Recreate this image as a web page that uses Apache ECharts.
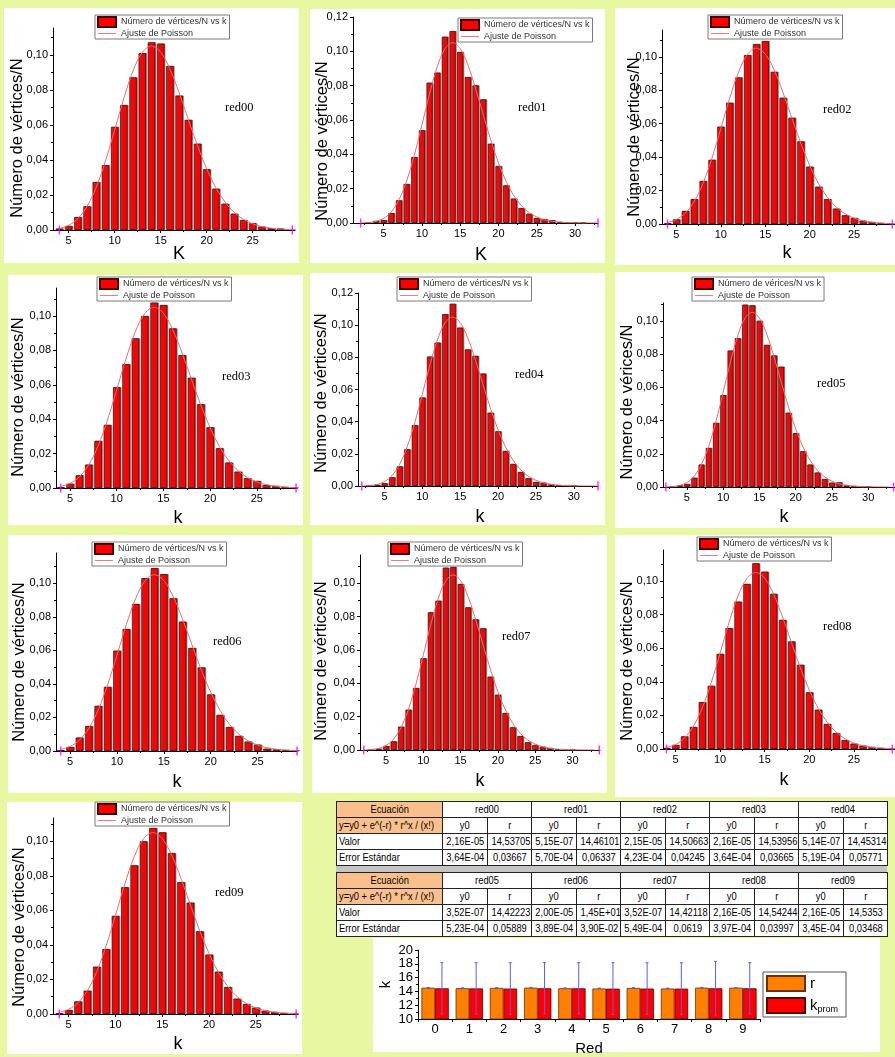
<!DOCTYPE html>
<html>
<head>
<meta charset="utf-8">
<title>Distribución de grados — red00 … red09</title>
<script src="https://cdn.jsdelivr.net/npm/echarts@6/dist/echarts.min.js"></script>
<style>
  html, body { margin: 0; padding: 0; background: #e8f8a2; }
  #chart { position: absolute; left: 0; top: 0; width: 895px; height: 1057px; }
  table.ajuste { position: absolute; border-collapse: collapse; table-layout: fixed; background: #fff;
    font-family: "Liberation Sans", Arial, sans-serif; font-size: 11px; color: #000; }
  table.ajuste td { border: 1px solid #222; padding: 0; height: 15px; line-height: 15px; text-align: center;
    white-space: nowrap; overflow: hidden; }
  table.ajuste td.eq { background: #f9c08e; }
  table.ajuste td.izq { text-align: left; padding-left: 2px; }
  table.ajuste span { display: inline-block; transform: scaleX(0.85); transform-origin: center; }
  table.ajuste td.izq span { transform-origin: left center; }
  #separador { position: absolute; background: #c4c4c4; }
</style>
</head>
<body>
<div id="chart"></div>
<div id="tablas"></div>
<script>
// ---------------------------------------------------------------
// Datos: fracción de vértices con grado k (Número de vértices/N)
// ---------------------------------------------------------------
const k = [3, 4, 5, 6, 7, 8, 9, 10, 11, 12, 13, 14, 15, 16, 17, 18, 19, 20, 21, 22, 23, 24, 25, 26, 27, 28, 29, 30, 31];

const red00 = [null, 0.0008, 0.0023, 0.0074, 0.0135, 0.0274, 0.0370, 0.0589, 0.0714, 0.0872, 0.1010, 0.1072, 0.1065, 0.0937, 0.0768, 0.0629, 0.0493, 0.0347, 0.0236, 0.0150, 0.0093, 0.0057, 0.0038, 0.0019, 0.0010, 0.0008, null, null, null];
const red01 = [0.0004, 0.0012, 0.0017, 0.0058, 0.0132, 0.0227, 0.0384, 0.0540, 0.0817, 0.0876, 0.1085, 0.1118, 0.0996, 0.0850, 0.0802, 0.0720, 0.0462, 0.0332, 0.0219, 0.0142, 0.0087, 0.0054, 0.0029, 0.0023, 0.0016, 0.0006, 0.0002, 0.0002, 0.0001];
const red02 = [null, 0.0004, 0.0028, 0.0078, 0.0149, 0.0257, 0.0384, 0.0582, 0.0725, 0.0876, 0.1010, 0.1076, 0.1094, 0.0910, 0.0755, 0.0635, 0.0494, 0.0343, 0.0223, 0.0149, 0.0092, 0.0052, 0.0036, 0.0020, 0.0012, 0.0006, 0.0003, null, null];
const red03 = [null, 0.0004, 0.0025, 0.0074, 0.0136, 0.0274, 0.0367, 0.0586, 0.0720, 0.0870, 0.1000, 0.1078, 0.1064, 0.0928, 0.0773, 0.0641, 0.0487, 0.0353, 0.0231, 0.0148, 0.0095, 0.0056, 0.0041, 0.0017, 0.0012, 0.0006, 0.0002, null, null];
const red04 = [0.0002, 0.0008, 0.0017, 0.0054, 0.0122, 0.0228, 0.0378, 0.0550, 0.0805, 0.0892, 0.1068, 0.1133, 0.0985, 0.0849, 0.0809, 0.0699, 0.0456, 0.0340, 0.0218, 0.0137, 0.0087, 0.0048, 0.0025, 0.0021, 0.0010, 0.0004, 0.0002, 0.0001, null];
const red05 = [0.0004, 0.0010, 0.0018, 0.0056, 0.0135, 0.0235, 0.0386, 0.0553, 0.0821, 0.0895, 0.1097, 0.1093, 0.1000, 0.0855, 0.0791, 0.0724, 0.0447, 0.0324, 0.0215, 0.0135, 0.0087, 0.0048, 0.0026, 0.0028, 0.0010, 0.0006, 0.0002, 0.0002, null];
const red06 = [null, 0.0005, 0.0024, 0.0080, 0.0149, 0.0269, 0.0382, 0.0598, 0.0727, 0.0876, 0.1030, 0.1090, 0.1054, 0.0910, 0.0771, 0.0614, 0.0498, 0.0337, 0.0215, 0.0143, 0.0090, 0.0056, 0.0038, 0.0014, 0.0010, 0.0006, 0.0003, null, null];
const red07 = [0.0002, 0.0008, 0.0024, 0.0052, 0.0140, 0.0242, 0.0372, 0.0550, 0.0826, 0.0896, 0.1094, 0.1098, 0.0996, 0.0856, 0.0784, 0.0730, 0.0440, 0.0332, 0.0222, 0.0136, 0.0084, 0.0046, 0.0030, 0.0020, 0.0012, 0.0004, 0.0002, 0.0001, null];
const red08 = [null, 0.0006, 0.0024, 0.0075, 0.0131, 0.0279, 0.0376, 0.0566, 0.0719, 0.0877, 0.0982, 0.1105, 0.1055, 0.0923, 0.0768, 0.0640, 0.0501, 0.0337, 0.0234, 0.0149, 0.0095, 0.0053, 0.0032, 0.0020, 0.0012, 0.0006, 0.0003, null, null];
const red09 = [null, 0.0004, 0.0023, 0.0073, 0.0135, 0.0274, 0.0376, 0.0568, 0.0734, 0.0861, 0.1000, 0.1077, 0.1052, 0.0932, 0.0763, 0.0645, 0.0479, 0.0344, 0.0245, 0.0156, 0.0089, 0.0058, 0.0037, 0.0019, 0.0012, 0.0006, 0.0003, null, null];

// Curva del ajuste de Poisson (r ≈ 14,5), igual en las diez redes a esta escala
const kAjuste = [2, 3, 4, 5, 6, 7, 8, 9, 10, 11, 12, 13, 14, 15, 16, 17, 18, 19, 20, 21, 22, 23, 24, 25, 26, 27, 28, 29, 30, 31, 32, 33];
const ajustePoisson = [0.00005, 0.00026, 0.00093, 0.00269, 0.00651, 0.01349, 0.02444, 0.03938, 0.05710, 0.07527, 0.09095, 0.10145, 0.10507, 0.10157, 0.09205, 0.07851, 0.06325, 0.04827, 0.03499, 0.02416, 0.01593, 0.01004, 0.00607, 0.00352, 0.00196, 0.00105, 0.00055, 0.00027, 0.00013, 0.00006, 0.00003, 0.00001];

// Marcas de eje (principales y secundarias)
const ticksK25 = [5, 10, 15, 20, 25];
const ticksK30 = [5, 10, 15, 20, 25, 30];
const menoresK = [2.5, 7.5, 12.5, 17.5, 22.5, 27.5, 32.5];
const ticksY10 = [0, 0.02, 0.04, 0.06, 0.08, 0.10];
const ticksY12 = [0, 0.02, 0.04, 0.06, 0.08, 0.10, 0.12];
const menoresY = [0.01, 0.03, 0.05, 0.07, 0.09, 0.11];

// Parámetros del ajuste y = y0 + e^(-r) * r^x / (x!)
const redes = ['red00', 'red01', 'red02', 'red03', 'red04', 'red05', 'red06', 'red07', 'red08', 'red09'];
const y0Valor = ['2,16E-05', '5,15E-07', '2,15E-05', '2,16E-05', '5,14E-07', '3,52E-07', '2,00E-05', '3,52E-07', '2,16E-05', '2,16E-05'];
const rValor = ['14,53705', '14,46101', '14,50663', '14,53956', '14,45314', '14,42223', '1,45E+01', '14,42118', '14,54244', '14,5353'];
const y0Error = ['3,64E-04', '5,70E-04', '4,23E-04', '3,64E-04', '5,19E-04', '5,23E-04', '3,89E-04', '5,49E-04', '3,97E-04', '3,45E-04'];
const rError = ['0,03667', '0,06337', '0,04245', '0,03665', '0,05771', '0,05889', '3,90E-02', '0,0619', '0,03997', '0,03468'];

// Grado medio de cada red y su desviación típica
const redIndice = ['0', '1', '2', '3', '4', '5', '6', '7', '8', '9'];
const kProm = [14.45, 14.43, 14.41, 14.45, 14.45, 14.40, 14.41, 14.40, 14.45, 14.45];
const kDesv = [3.72, 3.72, 3.74, 3.72, 3.72, 3.75, 3.74, 3.75, 3.90, 3.72];

// ---------------------------------------------------------------
// Disposición de los paneles (px)
// ---------------------------------------------------------------
const leyendaBarras = 'Número de vértices/N vs k';
const tituloY = 'Número de vértices/N';
const paneles = [
  { datos: red00, nombre: 'red00', grid: [53, 28, 242, 202], x: [3.3, 29.6], ymax: 0.1154, tk: ticksK25, ty: ticksY10, eje: 'K',
    leyenda: [95, 15], rotulo: [225, 108], tY: [17, 138], tX: [179, 254], marcas: [4, 29.3] },
  { datos: red01, nombre: 'red01', grid: [353, 17, 245, 206], x: [1.0, 33.0], ymax: 0.12, tk: ticksK30, ty: ticksY12, eje: 'K',
    leyenda: [458, 18], rotulo: [518, 108], tY: [322, 141], tX: [481, 255], marcas: [2, 33] },
  { datos: red02, nombre: 'red02', grid: [662, 30, 253, 194], x: [3.38, 29.6], ymax: 0.116, tk: ticksK25, ty: ticksY10, eje: 'k',
    leyenda: [708, 15], rotulo: [823, 110], tY: [634, 137], tX: [787, 253], marcas: [4, 29.3] },
  { datos: red03, nombre: 'red03', grid: [56, 288, 241, 200], x: [3.5, 29.3], ymax: 0.1163, tk: ticksK25, ty: ticksY10, eje: 'k',
    leyenda: [97, 277], rotulo: [222, 377], tY: [18, 397], tX: [178, 518], marcas: [4, 29.2] },
  { datos: red04, nombre: 'red04', grid: [358, 293, 240, 193], x: [1.5, 33.2], ymax: 0.12, tk: ticksK30, ty: ticksY12, eje: 'k',
    leyenda: [397, 277], rotulo: [515, 375], tY: [321, 393], tX: [480, 517], marcas: [2, 33.2] },
  { datos: red05, nombre: 'red05', grid: [663, 303, 234, 184], x: [1.7, 33.7], ymax: 0.1107, tk: ticksK30, ty: ticksY10, eje: 'k',
    leyenda: [692, 277], rotulo: [817, 384], tY: [627, 402], tX: [784, 517], marcas: [2.1, 33.5],
    serieNombre: 'Número de vérices/N vs k', titulo: 'Número de vérices/N' },
  { datos: red06, nombre: 'red06', grid: [56, 553, 241, 198], x: [3.5, 29.2], ymax: 0.118, tk: ticksK25, ty: ticksY10, eje: 'k',
    leyenda: [92, 542], rotulo: [213, 642], tY: [19, 662], tX: [177, 782], marcas: [4, 29.2] },
  { datos: red07, nombre: 'red07', grid: [360, 555, 240, 195], x: [1.5, 33.7], ymax: 0.117, tk: ticksK30, ty: ticksY10, eje: 'k',
    leyenda: [388, 542], rotulo: [502, 637], tY: [321, 661], tX: [480, 781], marcas: [2, 33.6] },
  { datos: red08, nombre: 'red08', grid: [663, 550, 247, 199], x: [3.6, 29.6], ymax: 0.1184, tk: ticksK25, ty: ticksY10, eje: 'k',
    leyenda: [697, 537], rotulo: [823, 627], tY: [627, 661], tX: [784, 780], marcas: [4, 29.3] },
  { datos: red09, nombre: 'red09', grid: [53, 818, 245, 196], x: [3.33, 29.5], ymax: 0.1135, tk: ticksK25, ty: ticksY10, eje: 'k',
    leyenda: [95, 802], rotulo: [215, 893], tY: [19, 927], tX: [178, 1044], marcas: [4, 29.3] }
];

// Fondos blancos de cada panel [x, y, ancho, alto]
const fondos = [
  [4, 8, 295, 255], [310, 9, 295, 254], [615, 8, 280, 257],
  [8, 275, 295, 250], [310, 273, 295, 252], [615, 272, 280, 256],
  [8, 535, 295, 258], [312, 535, 295, 258], [615, 535, 280, 262],
  [7, 802, 295, 252], [373, 938, 507, 114]
];

const sans = '"Liberation Sans", Arial, sans-serif';
const serif = '"Liberation Serif", "Times New Roman", serif';
const conComa = (v, d) => v.toFixed(d).replace('.', ',');
const aNumero = s => parseFloat(s.replace(',', '.'));
const colorAjuste = '#f06a6a';
const iconoLinea = 'path://M0,0H20V1H0Z';

const option = {
  backgroundColor: '#e8f8a2',
  animation: false,
  grid: [], xAxis: [], yAxis: [], series: [], legend: [], graphic: []
};

fondos.forEach(f => option.graphic.push({
  type: 'rect', z: -10, shape: { x: f[0], y: f[1], width: f[2], height: f[3] },
  style: { fill: '#ffffff' }, silent: true
}));

paneles.forEach((p, i) => {
  const nombreSerie = p.serieNombre || leyendaBarras;
  option.grid.push({ left: p.grid[0], top: p.grid[1], width: p.grid[2], height: p.grid[3] });
  option.xAxis.push({
    type: 'value', gridIndex: i, min: p.x[0], max: p.x[1],
    axisLine: { onZero: false, lineStyle: { color: '#000', width: 1 } },
    axisTick: { customValues: p.tk, length: 3, lineStyle: { color: '#000' } },
    axisLabel: { customValues: p.tk, fontSize: 11, color: '#000', margin: 5, fontFamily: sans },
    splitLine: { show: false }
  });
  option.yAxis.push({
    type: 'value', gridIndex: i, min: 0, max: p.ymax,
    axisLine: { show: true, lineStyle: { color: '#000', width: 1 } },
    axisTick: { customValues: p.ty, length: 3, lineStyle: { color: '#000' } },
    axisLabel: { customValues: p.ty, fontSize: 11, color: '#000', margin: 5, fontFamily: sans,
      formatter: v => conComa(v, 2) },
    splitLine: { show: false }
  });
  // Histograma
  option.series.push({
    type: 'bar', name: nombreSerie, xAxisIndex: i, yAxisIndex: i, barWidth: '80%',
    data: k.map((kk, j) => [kk, p.datos[j]]).filter(d => d[1] !== null),
    itemStyle: { color: '#ff0000', borderColor: '#4a0000', borderWidth: 0.7,
      shadowColor: 'rgba(90,90,90,0.8)', shadowOffsetX: 1, shadowOffsetY: 0, shadowBlur: 0 },
    z: 2
  });
  // Ajuste de Poisson
  option.series.push({
    type: 'line', name: 'Ajuste de Poisson', xAxisIndex: i, yAxisIndex: i, smooth: 0.35,
    symbol: 'none', clip: true, color: colorAjuste,
    data: kAjuste.map((kk, j) => [kk, ajustePoisson[j]])
      .filter(d => d[0] >= Math.floor(p.marcas[0]) && d[0] <= Math.ceil(p.marcas[1])),
    lineStyle: { color: colorAjuste, width: 1 }, z: 3
  });
  // Marcadores de los extremos del rango del ajuste
  option.series.push({
    type: 'scatter', xAxisIndex: i, yAxisIndex: i, symbol: 'rect', symbolSize: [1.5, 9],
    data: p.marcas.map(m => [m, 0]), itemStyle: { color: '#ff00ff' }, z: 4, clip: false, silent: true
  });
  option.legend.push({
    left: p.leyenda[0], top: p.leyenda[1], orient: 'vertical', selectedMode: false,
    itemWidth: 18, itemHeight: 10, itemGap: 1, padding: [1, 3, 1, 2],
    backgroundColor: '#ffffff', borderColor: '#7a7a7a', borderWidth: 1,
    textStyle: { fontSize: 9, color: '#333', fontFamily: sans },
    data: [{ name: nombreSerie, icon: 'rect' },
           { name: 'Ajuste de Poisson', icon: iconoLinea, itemStyle: { color: colorAjuste } }]
  });
  option.graphic.push(
    { type: 'text', x: p.rotulo[0], y: p.rotulo[1], silent: true,
      style: { text: p.nombre, font: '12.5px ' + serif, fill: '#000', align: 'left', verticalAlign: 'middle' } },
    { type: 'text', x: p.tY[0], y: p.tY[1], rotation: Math.PI / 2, silent: true,
      style: { text: p.titulo || tituloY, font: '16.5px ' + sans, fill: '#000', align: 'center', verticalAlign: 'middle' } },
    { type: 'text', x: p.tX[0], y: p.tX[1], silent: true,
      style: { text: p.eje, font: '18px ' + sans, fill: '#000', align: 'center', verticalAlign: 'middle' } }
  );
});

// ---------------------------------------------------------------
// Gráfico resumen: r del ajuste y grado medio por red
// ---------------------------------------------------------------
const g = paneles.length;
const rNum = rValor.map(aNumero);
const rErrNum = rError.map(aNumero);
option.grid.push({ left: 418, top: 950, width: 342, height: 72 });
option.xAxis.push({
  type: 'category', gridIndex: g, data: redIndice,
  name: 'Red', nameLocation: 'middle', nameGap: 22,
  nameTextStyle: { fontSize: 15, color: '#000', fontFamily: sans },
  axisLine: { lineStyle: { color: '#000' } },
  axisTick: { show: true, alignWithLabel: false, length: 3, lineStyle: { color: '#000' } },
  axisLabel: { fontSize: 13, color: '#000', margin: 4, fontFamily: sans }
});
option.yAxis.push({
  type: 'value', gridIndex: g, min: 10, max: 20, interval: 2,
  name: 'k', nameLocation: 'middle', nameGap: 25, nameRotate: 90,
  nameTextStyle: { fontSize: 15, color: '#000', fontFamily: sans },
  axisLine: { show: true, lineStyle: { color: '#000' } },
  axisTick: { show: true, length: 3, lineStyle: { color: '#000' } },
  minorTick: { show: true, splitNumber: 2, length: 2, lineStyle: { color: '#000' } },
  axisLabel: { fontSize: 13, color: '#000', margin: 5, fontFamily: sans },
  splitLine: { show: false }
});

// Marcas secundarias de los histogramas (ejes auxiliares sin línea ni etiquetas)
paneles.forEach((p, i) => {
  option.xAxis.push({
    type: 'value', gridIndex: i, min: p.x[0], max: p.x[1], position: 'bottom',
    axisLine: { show: false }, axisLabel: { show: false }, splitLine: { show: false },
    axisTick: { customValues: menoresK.filter(v => v > p.x[0] && v < p.x[1]), length: 2, lineStyle: { color: '#000' } }
  });
  option.yAxis.push({
    type: 'value', gridIndex: i, min: 0, max: p.ymax, position: 'left',
    axisLine: { show: false }, axisLabel: { show: false }, splitLine: { show: false },
    axisTick: { customValues: menoresY.filter(v => v < p.ymax), length: 2, lineStyle: { color: '#000' } }
  });
});

option.series.push(
  { type: 'bar', name: 'r', xAxisIndex: g, yAxisIndex: g, data: rNum, barWidth: '40%', barGap: '0%',
    itemStyle: { color: '#ff8000', borderColor: '#6b3000', borderWidth: 0.8 } },
  { type: 'bar', name: 'k_prom', xAxisIndex: g, yAxisIndex: g, data: kProm, barWidth: '40%', barGap: '0%',
    itemStyle: { color: '#ff0000', borderColor: '#5a0000', borderWidth: 0.8 } },
  { type: 'custom', xAxisIndex: g, yAxisIndex: g, z: 5, silent: true,
    data: rNum.map((v, i) => [i, v, rErrNum[i], -1]).concat(kProm.map((v, i) => [i, v, kDesv[i], 1])),
    renderItem: (params, api) => {
      const i = api.value(0), v = api.value(1), d = api.value(2), lado = api.value(3);
      const banda = api.size([1, 0])[0];
      const arriba = api.coord([i, v + d]), abajo = api.coord([i, v - d]);
      const x = arriba[0] + lado * banda * 0.2;
      const estilo = { stroke: '#5c5cf0', lineWidth: 1 };
      return { type: 'group', children: [
        { type: 'line', shape: { x1: x, y1: arriba[1], x2: x, y2: abajo[1] }, style: estilo },
        { type: 'line', shape: { x1: x - 1.5, y1: arriba[1], x2: x + 1.5, y2: arriba[1] }, style: estilo },
        { type: 'line', shape: { x1: x - 1.5, y1: abajo[1], x2: x + 1.5, y2: abajo[1] }, style: estilo }
      ] };
    } }
);
option.legend.push({
  left: 763, top: 972, orient: 'vertical', selectedMode: false,
  itemWidth: 38, itemHeight: 15, itemGap: 5, padding: [3, 8, 3, 3],
  backgroundColor: '#ffffff', borderColor: '#555', borderWidth: 1,
  data: [{ name: 'r', icon: 'rect' }, { name: 'k_prom', icon: 'rect' }],
  formatter: n => n === 'k_prom' ? '{a|k}{b|prom}' : '{a|r}',
  textStyle: { color: '#000', fontFamily: sans,
    rich: { a: { fontSize: 15, fontFamily: sans }, b: { fontSize: 9, fontFamily: sans, padding: [8, 0, 0, 0] } } }
});

const chart = echarts.init(document.getElementById('chart'), null, { renderer: 'canvas', width: 895, height: 1057 });
chart.setOption(option);

// ---------------------------------------------------------------
// Tablas de parámetros del ajuste
// ---------------------------------------------------------------
function tabla(desde, top) {
  const idx = [desde, desde + 1, desde + 2, desde + 3, desde + 4];
  const celda = (t, cls, extra) => `<td${cls ? ` class="${cls}"` : ''}${extra || ''}><span>${t}</span></td>`;
  let html = `<table class="ajuste" style="left:336px;top:${top}px;width:551px">`;
  html += '<colgroup><col style="width:106px">' + idx.map(() => '<col style="width:45px"><col style="width:44px">').join('') + '</colgroup>';
  html += '<tr>' + celda('Ecuación', 'eq') + idx.map(i => celda(redes[i], '', ' colspan="2"')).join('') + '</tr>';
  html += '<tr>' + celda('y=y0 + e^(-r) * r^x / (x!)', 'eq izq') + idx.map(() => celda('y0') + celda('r')).join('') + '</tr>';
  html += '<tr>' + celda('Valor', 'izq') + idx.map(i => celda(y0Valor[i]) + celda(rValor[i])).join('') + '</tr>';
  html += '<tr>' + celda('Error Estándar', 'izq') + idx.map(i => celda(y0Error[i]) + celda(rError[i])).join('') + '</tr>';
  return html + '</table>';
}
document.getElementById('tablas').innerHTML =
  tabla(0, 801) + '<div id="separador" style="left:336px;top:866px;width:551px;height:6px"></div>' + tabla(5, 872);
</script>
</body>
</html>
